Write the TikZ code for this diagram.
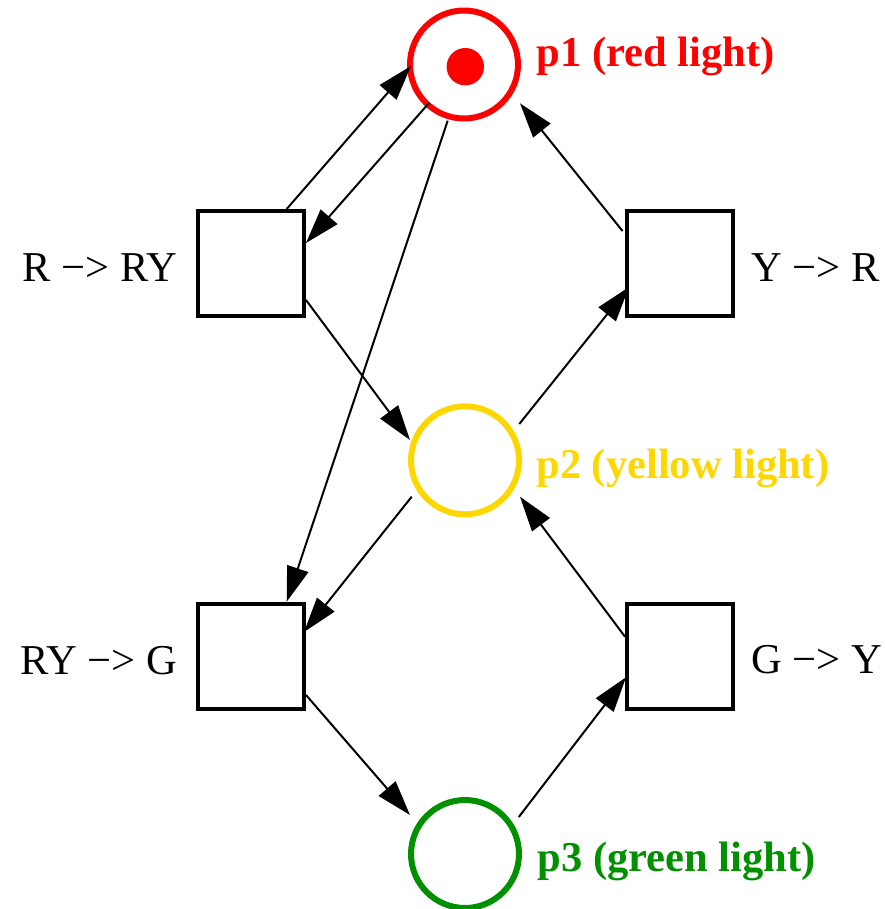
\documentclass[tikz,border=0pt]{standalone}
\usepackage{fontspec}
\setmainfont{Liberation Serif}
\usetikzlibrary{arrows.meta}
\definecolor{pred}{RGB}{255,0,0}
\definecolor{pyellow}{RGB}{255,215,0}
\definecolor{pgreen}{RGB}{0,144,0}
\begin{document}
\begin{tikzpicture}[x=0.02cm,y=-0.02cm,
  place/.style={circle,draw,line width=0.12cm,minimum size=2.16cm,inner sep=0pt},
  transition/.style={rectangle,draw,line width=0.08cm,minimum width=2.12cm,minimum height=2.09cm,inner sep=0pt},
  tlabel/.style={inner sep=0pt,font=\fontsize{24.2}{29}\selectfont},
  plabel/.style={inner sep=0pt,anchor=base west,font=\fontsize{24.2}{29}\selectfont\bfseries},
  arc/.style={line width=0.04cm,-{Triangle[length=0.7cm,width=0.44cm]}},
]
\useasboundingbox (0,0) rectangle (885,909);
% places
\node[place,draw=pred] (p1) at (464,64.5) {};
\node[place,draw=pyellow] (p2) at (465,460.3) {};
\node[place,draw=pgreen] (p3) at (465,854) {};
\node[circle,fill=pred,minimum size=0.748cm,inner sep=0pt] (tok) at (465.3,66.7) {};
% transitions
\node[transition] (t1) at (251,263.5) {};
\node[transition] (t2) at (680,263.5) {};
\node[transition] (t3) at (251,656.7) {};
\node[transition] (t4) at (680,656.7) {};
% labels
\node[tlabel,anchor=base east] (l1) at (177.5,281.7) {R −> RY};
\node[tlabel,anchor=base west] (l2) at (751,281.7) {Y −> R};
\node[tlabel,anchor=base east] (l3) at (177.5,674) {RY −> G};
\node[tlabel,anchor=base west] (l4) at (751,673.5) {G −> Y};
\node[plabel,text=pred] (n1) at (536.5,67) {p1 (red light)};
\node[plabel,text=pyellow] (n2) at (536,478.3) {p2 (yellow light)};
\node[plabel,text=pgreen] (n3) at (537.5,871.7) {p3 (green light)};
% arcs
\draw[arc] ([shift={(35.7,-54.5)}]t1.center) -- ([shift={(-53,1.5)}]p1.center);
\draw[arc] ([shift={(-35,38.5)}]p1.center) -- ([shift={(55,-20.5)}]t1.center);
\draw[arc] ([shift={(-16.3,56.2)}]p1.center) -- ([shift={(35.7,-55)}]t3.center);
\draw[arc] ([shift={(55,36.5)}]t1.center) -- ([shift={(-55,-20.3)}]p2.center);
\draw[arc] ([shift={(54.3,-36.3)}]p2.center) -- ([shift={(-51,23.5)}]t2.center);
\draw[arc] ([shift={(-57.5,-32.5)}]t2.center) -- ([shift={(56,38.8)}]p1.center);
\draw[arc] ([shift={(-53.3,36.4)}]p2.center) -- ([shift={(53,-24.7)}]t3.center);
\draw[arc] ([shift={(-55,-20)}]t4.center) -- ([shift={(55,36.4)}]p2.center);
\draw[arc] ([shift={(55,38.3)}]t3.center) -- ([shift={(-55,-39)}]p3.center);
\draw[arc] ([shift={(53.8,-37)}]p3.center) -- ([shift={(-54,20.6)}]t4.center);
\end{tikzpicture}
\end{document}
